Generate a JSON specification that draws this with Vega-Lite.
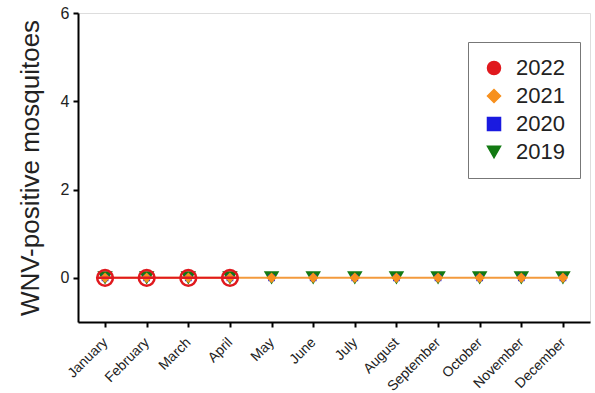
{
  "$schema": "https://vega.github.io/schema/vega-lite/v6.json",
  "autosize": "none",
  "width": 512,
  "height": 309,
  "padding": {"left": 78, "top": 13, "right": 5, "bottom": 71},
  "background": "white",
  "title": {"text": "Alameda County", "fontSize": 25, "font": "Liberation Sans", "fontWeight": "normal", "color": "#222", "offset": 7, "baseline": "alphabetic", "frame": "group", "anchor": "middle", "dx": -34, "dy": 22},
  "data": {"values": [
    {"year": "2019", "month": "January", "value": 0},
    {"year": "2019", "month": "February", "value": 0},
    {"year": "2019", "month": "March", "value": 0},
    {"year": "2019", "month": "April", "value": 0},
    {"year": "2019", "month": "May", "value": 0},
    {"year": "2019", "month": "June", "value": 0},
    {"year": "2019", "month": "July", "value": 0},
    {"year": "2019", "month": "August", "value": 0},
    {"year": "2019", "month": "September", "value": 0},
    {"year": "2019", "month": "October", "value": 0},
    {"year": "2019", "month": "November", "value": 0},
    {"year": "2019", "month": "December", "value": 0},
    {"year": "2020", "month": "January", "value": 0},
    {"year": "2020", "month": "February", "value": 0},
    {"year": "2020", "month": "March", "value": 0},
    {"year": "2020", "month": "April", "value": 0},
    {"year": "2020", "month": "May", "value": 0},
    {"year": "2020", "month": "June", "value": 0},
    {"year": "2020", "month": "July", "value": 0},
    {"year": "2020", "month": "August", "value": 0},
    {"year": "2020", "month": "September", "value": 0},
    {"year": "2020", "month": "October", "value": 0},
    {"year": "2020", "month": "November", "value": 0},
    {"year": "2020", "month": "December", "value": 0},
    {"year": "2021", "month": "January", "value": 0},
    {"year": "2021", "month": "February", "value": 0},
    {"year": "2021", "month": "March", "value": 0},
    {"year": "2021", "month": "April", "value": 0},
    {"year": "2021", "month": "May", "value": 0},
    {"year": "2021", "month": "June", "value": 0},
    {"year": "2021", "month": "July", "value": 0},
    {"year": "2021", "month": "August", "value": 0},
    {"year": "2021", "month": "September", "value": 0},
    {"year": "2021", "month": "October", "value": 0},
    {"year": "2021", "month": "November", "value": 0},
    {"year": "2021", "month": "December", "value": 0},
    {"year": "2022", "month": "January", "value": 0},
    {"year": "2022", "month": "February", "value": 0},
    {"year": "2022", "month": "March", "value": 0},
    {"year": "2022", "month": "April", "value": 0}
  ]},
  "encoding": {
    "x": {"field": "month", "type": "ordinal", "sort": ["January","February","March","April","May","June","July","August","September","October","November","December"],
      "scale": {"type": "point", "padding": 0.65},
      "axis": {"title": null, "labelAngle": -45, "labelAlign": "right", "labelBaseline": "middle", "labelFontSize": 14, "labelFont": "Liberation Sans", "labelColor": "#222", "labelPadding": 13, "domainColor": "black", "domainWidth": 2, "tickColor": "black", "tickWidth": 2, "tickSize": 5, "grid": false}},
    "y": {"field": "value", "type": "quantitative", "scale": {"domain": [-1, 6], "nice": false, "zero": false},
      "axis": {"title": "WNV-positive mosquitoes", "titleFontSize": 26, "titleFont": "Liberation Sans", "titleFontWeight": "normal", "titleColor": "#222", "titlePadding": 17, "values": [0, 2, 4, 6], "labelFontSize": 16, "labelFont": "Liberation Sans", "labelColor": "#222", "labelPadding": 4, "domainColor": "black", "domainWidth": 2, "tickColor": "black", "tickWidth": 2, "tickSize": 5, "grid": false}}
  },
  "layer": [
    {
      "transform": [{"filter": "datum.year === '2021'"}],
      "mark": {"type": "line", "strokeWidth": 2, "color": "#f39a3c"},
      "encoding": {}
    },
    {
      "transform": [{"filter": "datum.year === '2022'"}],
      "mark": {"type": "line", "strokeWidth": 2, "color": "#e0191e"},
      "encoding": {}
    },
    {
      "transform": [{"filter": "datum.year === '2019'"}],
      "mark": {"type": "point", "filled": true, "opacity": 1, "size": 240},
      "encoding": {
        "color": {"field": "year", "type": "nominal", "scale": {"domain": ["2022","2021","2020","2019"], "range": ["#e0191e","#f7901e","#1a1ae0","#137a13"]},
          "legend": {"title": null, "orient": "none", "legendX": 390, "legendY": 29, "strokeColor": "#777", "padding": 15, "labelFontSize": 22, "labelFont": "Liberation Sans", "labelColor": "#222", "rowPadding": 6, "symbolSize": 170, "labelOffset": 11}},
        "shape": {"field": "year", "type": "nominal", "scale": {"domain": ["2022","2021","2020","2019"], "range": ["M-1,0A1,1,0,1,1,1,0A1,1,0,1,1,-1,0ZM-1,0L1,0", "diamond", "square", "triangle-down"]}}
      }
    },
    {
      "transform": [{"filter": "datum.year === '2020'"}],
      "mark": {"type": "point", "filled": true, "opacity": 1, "size": 45},
      "encoding": {
        "color": {"field": "year", "type": "nominal"},
        "shape": {"field": "year", "type": "nominal"}
      }
    },
    {
      "transform": [{"filter": "datum.year === '2021'"}],
      "mark": {"type": "point", "filled": true, "opacity": 1, "size": 110},
      "encoding": {
        "color": {"field": "year", "type": "nominal"},
        "shape": {"field": "year", "type": "nominal"}
      }
    },
    {
      "transform": [{"filter": "datum.year === '2022'"}],
      "mark": {"type": "point", "filled": false, "opacity": 1, "size": 250, "strokeWidth": 2.5},
      "encoding": {
        "color": {"field": "year", "type": "nominal"},
        "shape": {"field": "year", "type": "nominal"}
      }
    }
  ]
}
